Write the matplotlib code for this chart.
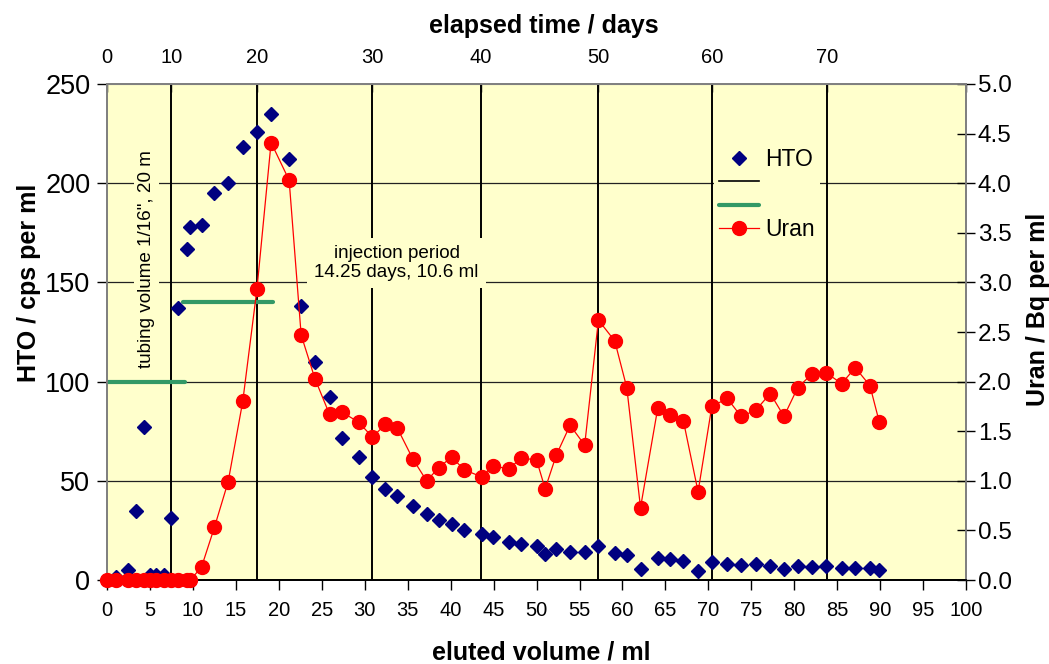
import matplotlib
matplotlib.use('Agg')
import matplotlib.pyplot as plt
from matplotlib.lines import Line2D
from matplotlib.ticker import FormatStrFormatter

plt.rcParams['font.family'] = ['Liberation Sans', 'DejaVu Sans']

# sample positions (eluted volume, ml)
volume = [0, 1.05, 2.4, 3.4, 4.3, 5.0, 5.7, 6.6, 7.4, 8.3, 9.3, 9.7,
          11.0, 12.5, 14.1, 15.8, 17.45, 19.1, 21.2, 22.6,
          24.2, 25.9, 27.4, 29.3, 30.9, 32.4, 33.8, 35.6, 37.2, 38.6,
          40.1, 41.6, 43.6, 44.9, 46.8, 48.2, 50.0, 51.0, 52.3, 53.9,
          55.6, 57.2, 59.1, 60.5, 62.1, 64.1, 65.5, 67.1, 68.8, 70.4,
          72.2, 73.8, 75.5, 77.2, 78.8, 80.4, 82.1, 83.7, 85.5, 87.1,
          88.8, 89.9]

# HTO, cps per ml
hto = [0, 1.5, 5, 35, 77, 2.5, 2.5, 2.5, 31, 137, 167, 178,
       179, 195, 200, 218, 226, 235, 212, 138,
       110, 92, 71.5, 62, 52, 46, 42.5, 37.5, 33.5, 30,
       28, 25, 23, 21.5, 19, 18, 17, 13, 15.5, 14.3,
       14, 17, 13.8, 12.4, 5.5, 11, 10.5, 9.6, 4.7, 8.9,
       8.3, 7.8, 8.2, 7.2, 5.7, 7.1, 6.6, 6.9, 6.0, 5.9,
       5.9, 5.0]

# Uran, Bq per ml
uran = [0, 0, 0, 0, 0, 0, 0, 0, 0, 0, 0, 0,
        0.13, 0.53, 0.99, 1.80, 2.93, 4.41, 4.03, 2.47,
        2.03, 1.67, 1.69, 1.59, 1.44, 1.57, 1.53, 1.22, 1.00, 1.13,
        1.24, 1.11, 1.04, 1.15, 1.12, 1.23, 1.21, 0.92, 1.26, 1.56,
        1.36, 2.62, 2.41, 1.94, 0.73, 1.73, 1.66, 1.60, 0.89, 1.75,
        1.83, 1.65, 1.71, 1.88, 1.65, 1.94, 2.08, 2.09, 1.98, 2.14,
        1.96, 1.59]

# elapsed time marks (days) and the eluted volume they fall on
days = [0, 10, 20, 30, 40, 50, 60, 70]
day_volume = [0, 7.5, 17.5, 30.9, 43.5, 57.2, 70.4, 83.8]

# tubing volume and injection period bars
tubing_span = [0, 9.1]
tubing_level = 100
injection_span = [8.9, 19.3]
injection_level = 140

vol_ticks = list(range(0, 101, 5))
hto_ticks = [0, 50, 100, 150, 200, 250]
uran_ticks = [0.0, 0.5, 1.0, 1.5, 2.0, 2.5, 3.0, 3.5, 4.0, 4.5, 5.0]

bg = '#FFFFCC'
green = '#339966'
navy = '#000080'

fig = plt.figure(figsize=(10.49, 6.64), dpi=100)
ax = fig.add_axes([0.102, 0.1265, 0.819, 0.747])
ax.set_facecolor(bg)
ax.set_xlim(0, 100)
ax.set_ylim(0, 250)
ax.set_xticks(vol_ticks)
ax.set_yticks(hto_ticks)

for y in hto_ticks[1:-1]:
    ax.axhline(y, color='#222222', lw=0.9, zorder=1)
for v in day_volume[1:]:
    ax.axvline(v, color='black', lw=1.4, zorder=1)

ax.plot(tubing_span, [tubing_level] * 2, color=green, lw=3,
        solid_capstyle='round', zorder=2)
ax.plot(injection_span, [injection_level] * 2, color=green, lw=3,
        solid_capstyle='round', zorder=2)

ax.plot(volume, hto, 'D', color=navy, ms=7, zorder=3, clip_on=False)

ax.text(4.6, 162, 'tubing volume 1/16", 20 m', rotation=90, ha='center',
        va='center', fontsize=13.6, zorder=2,
        bbox=dict(facecolor=bg, edgecolor='none', pad=3))
ax.text(33.7, 160, 'injection period\n14.25 days, 10.6 ml', ha='center',
        va='center', fontsize=13.6, linespacing=1.15, zorder=2,
        bbox=dict(facecolor=bg, edgecolor='none', pad=5))

ax2 = ax.twinx()
ax2.set_ylim(0, 5)
ax2.set_yticks(uran_ticks)
ax2.yaxis.set_major_formatter(FormatStrFormatter('%.1f'))
ax2.plot(volume, uran, '-o', color='red', ms=10, lw=0.9, clip_on=False,
         zorder=4)

# spines and ticks
for a in (ax, ax2):
    a.spines['left'].set_color('#808080')
    a.spines['right'].set_color('#808080')
    a.spines['top'].set_color('#808080')
    a.spines['bottom'].set_color('black')
    for s in a.spines.values():
        s.set_linewidth(1.3)

ax.tick_params(axis='y', direction='out', length=7, width=1,
               labelsize=19.5, pad=5)
ax.tick_params(axis='x', direction='out', length=7, width=1,
               labelsize=14.5, pad=8)
ax2.tick_params(axis='y', direction='inout', length=13, width=1,
                labelsize=17.5, pad=2)

top = ax.secondary_xaxis('top')
top.set_xticks(day_volume + [100], labels=[str(d) for d in days] + [''])
top.tick_params(direction='in', length=6, width=1, labelsize=14.5, pad=12)
top.spines['top'].set_color('#808080')

lab = dict(fontsize=18, fontweight='bold')
ax.set_xlabel('eluted volume / ml', labelpad=15, **lab)
ax.set_ylabel('HTO / cps per ml', labelpad=3, **lab)
ax2.set_ylabel('Uran / Bq per ml', labelpad=10, **lab)
top.set_xlabel('elapsed time / days', labelpad=11, **lab)
ax.xaxis.label.set_x(0.506)
top.xaxis.label.set_x(0.508)
ax.yaxis.label.set_y(0.60)
ax2.yaxis.label.set_y(0.545)

handles = [
    Line2D([], [], marker='D', ls='none', color=navy, ms=7),
    Line2D([], [], color='black', lw=1.2),
    Line2D([], [], color=green, lw=3, solid_capstyle='round'),
    Line2D([], [], color='red', marker='o', ms=10, lw=0.9),
]
leg = ax2.legend(handles, ['HTO', '', '', 'Uran'], loc='upper left',
                 bbox_to_anchor=(0.706, 0.883), fontsize=16.5, frameon=True,
                 facecolor=bg, edgecolor='none', framealpha=1,
                 labelspacing=0.02, handlelength=1.75, handletextpad=0.25,
                 borderpad=0.25, borderaxespad=0)
leg.get_frame().set_boxstyle('square', pad=0)

fig.savefig('out.png', dpi=100, facecolor='white')
